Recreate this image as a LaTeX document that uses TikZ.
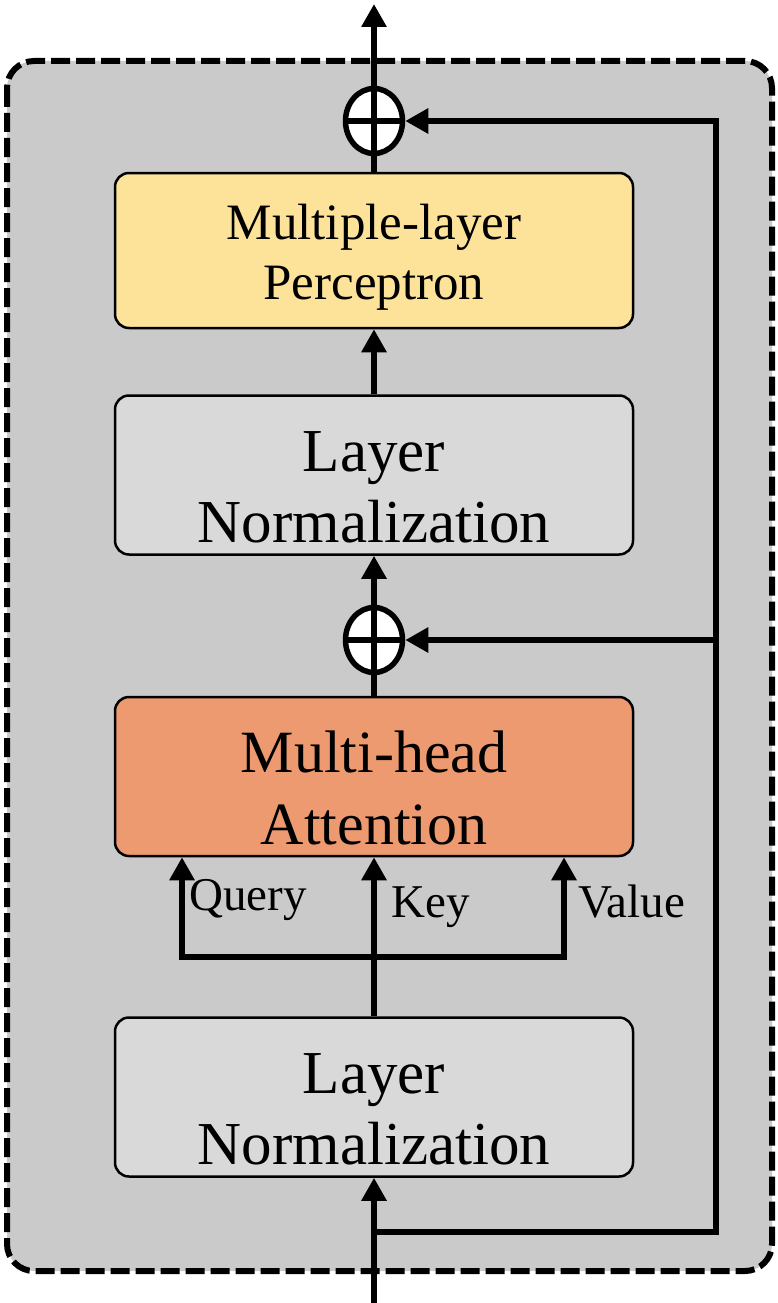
\documentclass[tikz,border=0pt]{standalone}
\usepackage{fontspec}
\setmainfont{Liberation Serif}
\usetikzlibrary{positioning,arrows.meta,shapes.geometric}
\definecolor{bggray}{RGB}{203,202,203}
\definecolor{boxgray}{RGB}{217,217,217}
\definecolor{mlpyellow}{RGB}{253,226,154}
\definecolor{mhaorange}{RGB}{238,154,112}
\tikzset{my box/.style={draw,line width=2.5pt,align=center,minimum width=518pt,minimum height=159pt,rounded corners=14pt,fill=#1},
  my arrow/.style={line width=6pt,-{Triangle[length=23pt,width=24pt]}},
  my add/.style={ellipse,draw,line width=5.5pt,fill=white,minimum width=57pt,minimum height=65pt,inner sep=0pt,
    path picture={\draw[line width=5.5pt] (path picture bounding box.north) -- (path picture bounding box.south) (path picture bounding box.west) -- (path picture bounding box.east);}},
  my label/.style={font=\fontsize{47}{56}\selectfont,inner sep=0pt}}

\begin{document}
\begin{tikzpicture}[x=1pt,y=-1pt]
\useasboundingbox (0,0) rectangle (777,1303);
\draw[line width=6pt,dash pattern=on 19pt off 6pt,rounded corners=27pt,fill=bggray] (7,61) rectangle (772,1271);
% blocks, bottom to top
\node[my box=boxgray,font=\fontsize{61}{71}\selectfont] (ln1) at (374,1097) {\rule{0pt}{65pt}Layer\\Normalization};
\node[my box=mhaorange,font=\fontsize{60}{72}\selectfont] (mha) [above=159pt of ln1] {\rule{0pt}{65pt}Multi-head\\Attention};
\node[my add] (add2) at (374,640) {};
\node[my box=boxgray,font=\fontsize{61}{71}\selectfont] (ln2) [above=140pt of mha] {\rule{0pt}{65pt}Layer\\Normalization};
\node[my box=mlpyellow,font=\fontsize{51}{60}\selectfont,minimum height=155pt] (mlp) [above=65pt of ln2] {\rule{0pt}{48pt}Multiple-layer\\Perceptron};
\node[my add] (add1) at (374,121) {};
\coordinate (in) at (374,1303);
\coordinate (fork) at (374,1232);
\coordinate (skip) at (716,1232);
\coordinate (qkv) at (374,957);
\coordinate (out) at (374,4);
% labels
\node[my label,anchor=base west] (query) at (189,910) {Query};
\node[my label,anchor=base west] (key) at (391,917) {Key};
\node[my label,anchor=base west] (value) at (578,917) {Value};
% connectors
\draw[my arrow] (in) -- (ln1);
\draw[my arrow] (ln1) -- (mha);
\draw[my arrow] (qkv) -| ([xshift=-192pt]mha.south);
\draw[my arrow] (qkv) -| ([xshift=190pt]mha.south);
\draw[line width=6pt] (mha) -- (add2);
\draw[my arrow] (add2) -- (ln2);
\draw[my arrow] (ln2) -- (mlp);
\draw[line width=6pt] (mlp) -- (add1);
\draw[my arrow] (add1) -- (out);
\draw[my arrow] (fork) -- (skip) |- (add1);
\draw[my arrow] (skip |- add2) -- (add2);
\end{tikzpicture}
\end{document}
